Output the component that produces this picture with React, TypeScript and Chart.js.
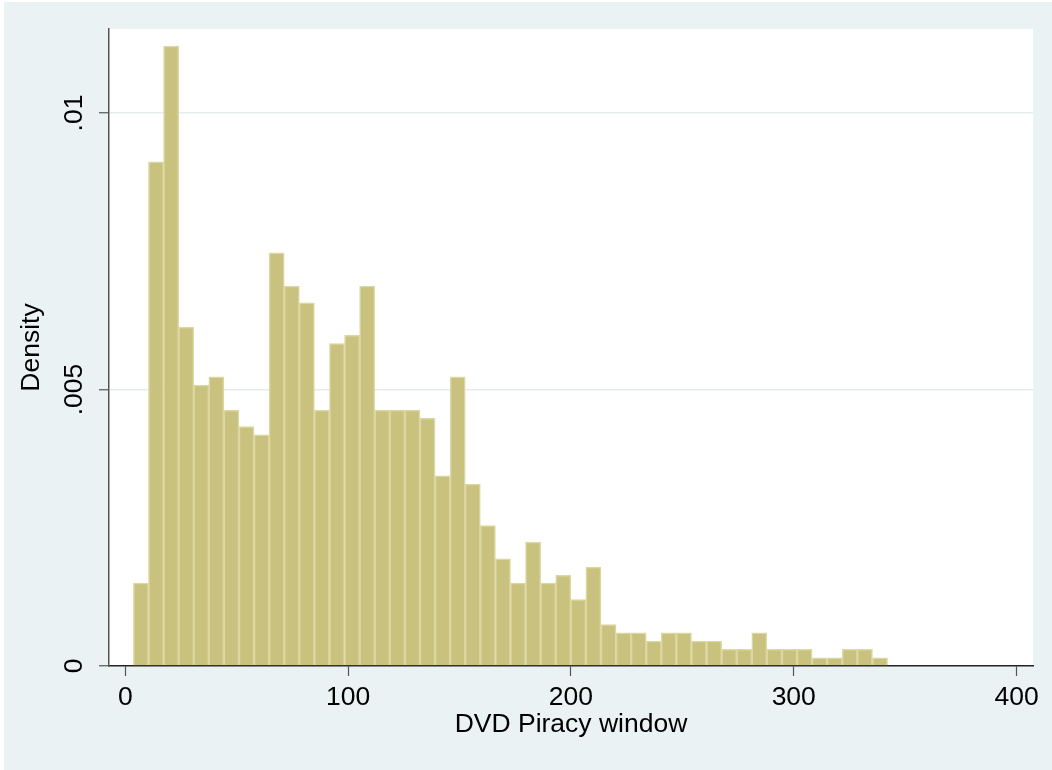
import React, { useEffect, useRef } from "react";
import { Chart, registerables } from "chart.js";

Chart.register(...registerables);

// Histogram bins (equal width)
const BIN_START = 3.6;
const BIN_WIDTH = 6.77;
const densities = [
  0.0015, 0.00912, 0.01121, 0.00613, 0.00508, 0.00523, 0.00463, 0.00433, 0.00418, 0.00747,
  0.00687, 0.00657, 0.00463, 0.00583, 0.00598, 0.00687, 0.00463, 0.00463, 0.00463, 0.00448,
  0.00344, 0.00523, 0.00329, 0.00254, 0.00194, 0.0015, 0.00224, 0.0015, 0.00164, 0.0012,
  0.00179, 0.00075, 0.0006, 0.0006, 0.00045, 0.0006, 0.0006, 0.00045, 0.00045, 0.0003,
  0.0003, 0.0006, 0.0003, 0.0003, 0.0003, 0.00015, 0.00015, 0.0003, 0.0003, 0.00015,
];
const xTicks = [0, 100, 200, 300, 400];
const yTicks = [0, 0.005, 0.01];
const yTickLabels = ["0", ".005", ".01"];
const xTitle = "DVD Piracy window";
const yTitle = "Density";

const FONT = "'Liberation Sans', Arial, Helvetica, sans-serif";
const FS = 26.5;

const bgPlugin = {
  id: "stataBg",
  beforeDraw(chart: any) {
    const { ctx, chartArea: a, width, height } = chart;
    ctx.save();
    ctx.fillStyle = "#ffffff";
    ctx.fillRect(0, 0, width, height);
    ctx.fillStyle = "#EAF2F3";
    ctx.fillRect(4, 2, width - 4, height - 2);
    ctx.fillStyle = "#ffffff";
    ctx.fillRect(a.left, a.top, a.right - a.left, a.bottom - a.top);
    ctx.restore();
  },
};

export default function App() {
  const ref = useRef<HTMLCanvasElement | null>(null);
  useEffect(() => {
    if (!ref.current) return;
    const chart = new Chart(ref.current, {
      type: "bar",
      data: {
        datasets: [
          {
            data: densities.map((d, i) => ({ x: BIN_START + BIN_WIDTH * (i + 0.5), y: d })),
            backgroundColor: "#C9C27E",
            borderColor: "#DCD7A2",
            borderWidth: 1.5,
            barPercentage: 1,
            categoryPercentage: 1,
          } as any,
        ],
      },
      options: {
        responsive: false,
        animation: false,
        events: [],
        layout: { padding: { top: 29, right: 19, left: 0, bottom: 0 } },
        plugins: { legend: { display: false }, tooltip: { enabled: false } },
        scales: {
          x: {
            type: "linear",
            min: -7.36,
            max: 407.4,
            offset: false,
            afterBuildTicks: (s: any) => {
              s.ticks = xTicks.map((v) => ({ value: v }));
            },
            afterFit: (s: any) => {
              s.height = 104;
              s.paddingLeft = 0;
              s.paddingRight = 0;
            },
            ticks: {
              autoSkip: false,
              maxRotation: 0,
              padding: 6,
              color: "#000",
              font: { family: FONT, size: FS },
              callback: (v: any) => String(v),
            },
            grid: {
              display: true,
              drawOnChartArea: false,
              offset: false,
              tickLength: 10,
              tickColor: "#555",
              tickWidth: 1.2,
            },
            border: { display: true, color: "#222", width: 1.5 },
            title: {
              display: true,
              text: xTitle,
              color: "#000",
              font: { family: FONT, size: FS, lineHeight: 1 },
              padding: { top: 0, bottom: 32 },
            },
          } as any,
          y: {
            type: "linear",
            min: 0,
            max: 0.01152,
            afterBuildTicks: (s: any) => {
              s.ticks = yTicks.map((v) => ({ value: v }));
            },
            afterFit: (s: any) => {
              s.width = 109;
              s.paddingTop = 0;
              s.paddingBottom = 0;
            },
            ticks: {
              minRotation: 90,
              maxRotation: 90,
              crossAlign: "center",
              padding: -1,
              color: "#000",
              font: { family: FONT, size: FS },
              callback: (v: any) => {
                const i = yTicks.indexOf(v);
                return i >= 0 ? yTickLabels[i] : "";
              },
            },
            grid: {
              color: (c: any) => (c.tick && c.tick.value === 0 ? "rgba(0,0,0,0)" : "#E3ECEE"),
              lineWidth: 1.5,
              tickLength: 10,
              tickColor: "#555",
              tickWidth: 1.2,
            },
            border: { display: true, color: "#555", width: 1.5 },
            title: {
              display: true,
              text: yTitle,
              color: "#000",
              font: { family: FONT, size: FS, lineHeight: 1 },
              padding: { top: 18.5, bottom: 0 },
            },
          } as any,
        },
      },
      plugins: [bgPlugin],
    });
    return () => chart.destroy();
  }, []);
  return (
    <div style={{ position: "absolute", left: 0, top: 0, width: 1052, height: 770 }}>
      <canvas ref={ref} width={1052} height={770} style={{ display: "block", width: 1052, height: 770 }} />
    </div>
  );
}
